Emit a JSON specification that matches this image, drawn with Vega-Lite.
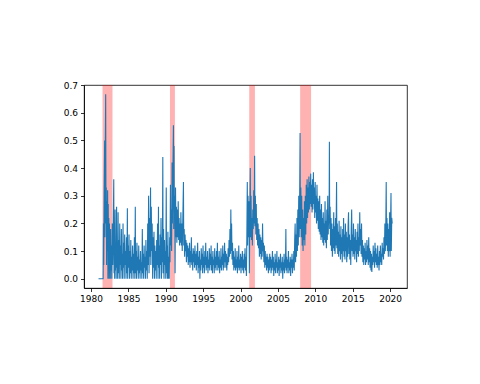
{
"$schema": "https://vega.github.io/schema/vega-lite/v6.json",
"width": 323, "height": 203,
"autosize": {"type": "none"},
"padding": {"left": 84, "top": 85, "right": 73, "bottom": 96},
"config": {
  "view": {"stroke": "black", "strokeWidth": 0.8},
  "axis": {"grid": false, "domainColor": "black", "domainWidth": 0.8, "tickColor": "black", "tickWidth": 0.8, "tickSize": 3.5, "labelPadding": 3, "labelFont": "DejaVu Sans", "labelFontSize": 9, "labelColor": "black", "title": null}
},
"datasets": {
  "rec": [{"start": 1981.54, "end": 1982.87}, {"start": 1990.56, "end": 1991.22}, {"start": 2001.16, "end": 2001.92}, {"start": 2007.97, "end": 2009.43}],
  "series": [
{"year":1981.00,"value":0},{"year":1981.30,"value":0},{"year":1981.62,"value":0},{"year":1981.66,"value":0.2},{"year":1981.70,"value":0.05},{"year":1981.76,"value":0.32},{"year":1981.82,"value":0.5},{"year":1981.86,"value":0.15},{"year":1981.90,"value":0.45},{"year":1981.96,"value":0.667},{"year":1982.00,"value":0.2},{"year":1982.04,"value":0.33},{"year":1982.08,"value":0.05},{"year":1982.12,"value":0.28},{"year":1982.16,"value":0.1},{"year":1982.22,"value":0.32},{"year":1982.26,"value":0.0},{"year":1982.30,"value":0.27},{"year":1982.34,"value":0.06},{"year":1982.38,"value":0.22},{"year":1982.42,"value":0.0},{"year":1982.46,"value":0.2},{"year":1982.50,"value":0.05},{"year":1982.54,"value":0.14},{"year":1982.58,"value":0.0},{"year":1982.62,"value":0.18},{"year":1982.66,"value":0.03},{"year":1982.72,"value":0.12},{"year":1982.78,"value":0.0},{"year":1982.84,"value":0.2},{"year":1982.90,"value":0.05},{"year":1982.96,"value":0.15},{"year":1983.04,"value":0.36},
{"year":1983.08,"value":0.02},{"year":1983.12,"value":0.15},{"year":1983.16,"value":0.0},{"year":1983.22,"value":0.25},{"year":1983.26,"value":0.03},{"year":1983.32,"value":0.12},{"year":1983.36,"value":0.0},{"year":1983.42,"value":0.26},{"year":1983.46,"value":0.04},{"year":1983.52,"value":0.1},{"year":1983.56,"value":0.0},{"year":1983.62,"value":0.24},{"year":1983.66,"value":0.02},{"year":1983.72,"value":0.14},{"year":1983.78,"value":0.0},{"year":1983.84,"value":0.2},{"year":1983.88,"value":0.05},{"year":1983.94,"value":0.12},{"year":1984.00,"value":0.0},{"year":1984.06,"value":0.18},{"year":1984.10,"value":0.03},{"year":1984.16,"value":0.09},{"year":1984.22,"value":0.0},{"year":1984.28,"value":0.2},{"year":1984.32,"value":0.04},{"year":1984.38,"value":0.13},{"year":1984.44,"value":0.0},{"year":1984.50,"value":0.16},{"year":1984.56,"value":0.05},{"year":1984.62,"value":0.1},{"year":1984.68,"value":0.0},{"year":1984.74,"value":0.15},{"year":1984.80,"value":0.02},{"year":1984.86,"value":0.255},{"year":1984.90,"value":0.0},{"year":1984.96,"value":0.12},
{"year":1985.02,"value":0.04},{"year":1985.08,"value":0.16},{"year":1985.14,"value":0.0},{"year":1985.20,"value":0.1},{"year":1985.26,"value":0.02},{"year":1985.32,"value":0.14},{"year":1985.38,"value":0.0},{"year":1985.44,"value":0.08},{"year":1985.50,"value":0.03},{"year":1985.56,"value":0.12},{"year":1985.62,"value":0.0},{"year":1985.68,"value":0.09},{"year":1985.74,"value":0.02},{"year":1985.80,"value":0.15},{"year":1985.86,"value":0.0},{"year":1985.92,"value":0.26},{"year":1985.96,"value":0.02},{"year":1986.02,"value":0.1},{"year":1986.08,"value":0.0},{"year":1986.14,"value":0.13},{"year":1986.20,"value":0.03},{"year":1986.26,"value":0.08},{"year":1986.32,"value":0.0},{"year":1986.38,"value":0.12},{"year":1986.44,"value":0.02},{"year":1986.50,"value":0.07},{"year":1986.56,"value":0.0},{"year":1986.62,"value":0.1},{"year":1986.68,"value":0.03},{"year":1986.74,"value":0.06},{"year":1986.80,"value":0.0},{"year":1986.86,"value":0.18},{"year":1986.92,"value":0.02},{"year":1986.98,"value":0.09},
{"year":1987.04,"value":0.0},{"year":1987.10,"value":0.12},{"year":1987.16,"value":0.04},{"year":1987.22,"value":0.08},{"year":1987.28,"value":0.0},{"year":1987.34,"value":0.14},{"year":1987.40,"value":0.03},{"year":1987.46,"value":0.1},{"year":1987.52,"value":0.0},{"year":1987.58,"value":0.2},{"year":1987.64,"value":0.05},{"year":1987.70,"value":0.3},{"year":1987.76,"value":0.02},{"year":1987.82,"value":0.22},{"year":1987.88,"value":0.08},{"year":1987.96,"value":0.33},{"year":1988.00,"value":0.05},{"year":1988.06,"value":0.26},{"year":1988.12,"value":0.1},{"year":1988.18,"value":0.2},{"year":1988.24,"value":0.0},{"year":1988.30,"value":0.15},{"year":1988.36,"value":0.04},{"year":1988.42,"value":0.17},{"year":1988.48,"value":0.0},{"year":1988.54,"value":0.12},{"year":1988.60,"value":0.03},{"year":1988.66,"value":0.1},{"year":1988.72,"value":0.0},{"year":1988.78,"value":0.14},{"year":1988.84,"value":0.05},{"year":1988.90,"value":0.2},{"year":1988.96,"value":0.0},
{"year":1989.02,"value":0.26},{"year":1989.06,"value":0.04},{"year":1989.12,"value":0.12},{"year":1989.18,"value":0.0},{"year":1989.24,"value":0.16},{"year":1989.30,"value":0.05},{"year":1989.36,"value":0.22},{"year":1989.42,"value":0.0},{"year":1989.48,"value":0.15},{"year":1989.54,"value":0.06},{"year":1989.60,"value":0.44},{"year":1989.64,"value":0.02},{"year":1989.70,"value":0.18},{"year":1989.76,"value":0.0},{"year":1989.82,"value":0.14},{"year":1989.88,"value":0.05},{"year":1989.94,"value":0.1},{"year":1990.00,"value":0.0},{"year":1990.06,"value":0.33},{"year":1990.10,"value":0.02},{"year":1990.16,"value":0.12},{"year":1990.22,"value":0.0},{"year":1990.28,"value":0.17},{"year":1990.34,"value":0.0},{"year":1990.40,"value":0.08},{"year":1990.46,"value":0.0},{"year":1990.52,"value":0.15},{"year":1990.56,"value":0.06},{"year":1990.62,"value":0.34},{"year":1990.66,"value":0.12},{"year":1990.72,"value":0.25},{"year":1990.78,"value":0.1},{"year":1990.84,"value":0.42},{"year":1990.88,"value":0.2},{"year":1990.94,"value":0.35},
{"year":1991.02,"value":0.555},{"year":1991.06,"value":0.18},{"year":1991.10,"value":0.48},{"year":1991.14,"value":0.22},{"year":1991.20,"value":0.3},{"year":1991.24,"value":0.02},{"year":1991.30,"value":0.33},{"year":1991.36,"value":0.15},{"year":1991.42,"value":0.26},{"year":1991.48,"value":0.13},{"year":1991.54,"value":0.25},{"year":1991.60,"value":0.15},{"year":1991.66,"value":0.28},{"year":1991.72,"value":0.14},{"year":1991.78,"value":0.22},{"year":1991.84,"value":0.12},{"year":1991.90,"value":0.2},{"year":1991.96,"value":0.13},{"year":1992.02,"value":0.24},{"year":1992.08,"value":0.12},{"year":1992.14,"value":0.2},{"year":1992.20,"value":0.1},{"year":1992.28,"value":0.22},{"year":1992.36,"value":0.35},{"year":1992.40,"value":0.12},{"year":1992.46,"value":0.18},{"year":1992.52,"value":0.08},{"year":1992.58,"value":0.16},{"year":1992.64,"value":0.1},{"year":1992.70,"value":0.14},{"year":1992.76,"value":0.06},{"year":1992.82,"value":0.13},{"year":1992.88,"value":0.08},{"year":1992.94,"value":0.12},
{"year":1993.00,"value":0.05},{"year":1993.06,"value":0.11},{"year":1993.12,"value":0.06},{"year":1993.18,"value":0.13},{"year":1993.24,"value":0.04},{"year":1993.30,"value":0.1},{"year":1993.36,"value":0.06},{"year":1993.42,"value":0.15},{"year":1993.48,"value":0.05},{"year":1993.54,"value":0.09},{"year":1993.60,"value":0.03},{"year":1993.66,"value":0.11},{"year":1993.72,"value":0.06},{"year":1993.78,"value":0.1},{"year":1993.84,"value":0.04},{"year":1993.90,"value":0.12},{"year":1993.96,"value":0.05},{"year":1994.02,"value":0.09},{"year":1994.08,"value":0.03},{"year":1994.14,"value":0.1},{"year":1994.20,"value":0.05},{"year":1994.26,"value":0.13},{"year":1994.32,"value":0.02},{"year":1994.38,"value":0.08},{"year":1994.44,"value":0.04},{"year":1994.50,"value":0.1},{"year":1994.56,"value":0.0},{"year":1994.62,"value":0.07},{"year":1994.68,"value":0.03},{"year":1994.74,"value":0.11},{"year":1994.80,"value":0.05},{"year":1994.86,"value":0.09},{"year":1994.92,"value":0.02},{"year":1994.98,"value":0.12},
{"year":1995.04,"value":0.04},{"year":1995.10,"value":0.08},{"year":1995.16,"value":0.02},{"year":1995.22,"value":0.1},{"year":1995.28,"value":0.05},{"year":1995.34,"value":0.13},{"year":1995.40,"value":0.03},{"year":1995.46,"value":0.08},{"year":1995.52,"value":0.04},{"year":1995.58,"value":0.1},{"year":1995.64,"value":0.02},{"year":1995.70,"value":0.07},{"year":1995.76,"value":0.04},{"year":1995.82,"value":0.11},{"year":1995.88,"value":0.03},{"year":1995.94,"value":0.09},{"year":1996.00,"value":0.05},{"year":1996.06,"value":0.12},{"year":1996.12,"value":0.03},{"year":1996.18,"value":0.08},{"year":1996.24,"value":0.02},{"year":1996.30,"value":0.1},{"year":1996.36,"value":0.05},{"year":1996.42,"value":0.07},{"year":1996.48,"value":0.02},{"year":1996.54,"value":0.11},{"year":1996.60,"value":0.04},{"year":1996.66,"value":0.08},{"year":1996.72,"value":0.03},{"year":1996.78,"value":0.1},{"year":1996.84,"value":0.05},{"year":1996.90,"value":0.13},{"year":1996.96,"value":0.03},
{"year":1997.02,"value":0.08},{"year":1997.08,"value":0.04},{"year":1997.14,"value":0.1},{"year":1997.20,"value":0.02},{"year":1997.26,"value":0.07},{"year":1997.32,"value":0.04},{"year":1997.38,"value":0.11},{"year":1997.44,"value":0.03},{"year":1997.50,"value":0.08},{"year":1997.56,"value":0.05},{"year":1997.62,"value":0.12},{"year":1997.68,"value":0.03},{"year":1997.74,"value":0.09},{"year":1997.80,"value":0.04},{"year":1997.86,"value":0.13},{"year":1997.92,"value":0.06},{"year":1997.98,"value":0.1},{"year":1998.04,"value":0.04},{"year":1998.10,"value":0.09},{"year":1998.16,"value":0.03},{"year":1998.22,"value":0.08},{"year":1998.28,"value":0.05},{"year":1998.34,"value":0.11},{"year":1998.40,"value":0.06},{"year":1998.46,"value":0.14},{"year":1998.52,"value":0.08},{"year":1998.58,"value":0.18},{"year":1998.64,"value":0.09},{"year":1998.70,"value":0.25},{"year":1998.74,"value":0.1},{"year":1998.80,"value":0.2},{"year":1998.86,"value":0.07},{"year":1998.92,"value":0.13},{"year":1998.98,"value":0.05},
{"year":1999.04,"value":0.1},{"year":1999.10,"value":0.03},{"year":1999.16,"value":0.08},{"year":1999.22,"value":0.04},{"year":1999.28,"value":0.11},{"year":1999.34,"value":0.03},{"year":1999.40,"value":0.07},{"year":1999.46,"value":0.04},{"year":1999.52,"value":0.1},{"year":1999.58,"value":0.02},{"year":1999.64,"value":0.08},{"year":1999.70,"value":0.04},{"year":1999.76,"value":0.12},{"year":1999.82,"value":0.03},{"year":1999.88,"value":0.07},{"year":1999.94,"value":0.04},{"year":2000.00,"value":0.09},{"year":2000.06,"value":0.02},{"year":2000.12,"value":0.08},{"year":2000.18,"value":0.04},{"year":2000.24,"value":0.1},{"year":2000.30,"value":0.03},{"year":2000.36,"value":0.07},{"year":2000.42,"value":0.02},{"year":2000.48,"value":0.09},{"year":2000.54,"value":0.04},{"year":2000.60,"value":0.11},{"year":2000.66,"value":0.03},{"year":2000.72,"value":0.08},{"year":2000.78,"value":0.01},{"year":2000.84,"value":0.15},{"year":2000.90,"value":0.35},{"year":2000.94,"value":0.12},
{"year":2001.00,"value":0.3},{"year":2001.06,"value":0.15},{"year":2001.12,"value":0.28},{"year":2001.18,"value":0.02},{"year":2001.24,"value":0.25},{"year":2001.30,"value":0.4},{"year":2001.34,"value":0.15},{"year":2001.40,"value":0.3},{"year":2001.46,"value":0.14},{"year":2001.52,"value":0.22},{"year":2001.58,"value":0.12},{"year":2001.64,"value":0.25},{"year":2001.70,"value":0.18},{"year":2001.76,"value":0.32},{"year":2001.82,"value":0.2},{"year":2001.88,"value":0.445},{"year":2001.92,"value":0.19},{"year":2001.98,"value":0.3},{"year":2002.04,"value":0.16},{"year":2002.10,"value":0.27},{"year":2002.16,"value":0.14},{"year":2002.22,"value":0.22},{"year":2002.28,"value":0.12},{"year":2002.34,"value":0.2},{"year":2002.40,"value":0.11},{"year":2002.46,"value":0.18},{"year":2002.52,"value":0.08},{"year":2002.58,"value":0.16},{"year":2002.64,"value":0.09},{"year":2002.70,"value":0.15},{"year":2002.76,"value":0.07},{"year":2002.82,"value":0.14},{"year":2002.88,"value":0.08},{"year":2002.94,"value":0.2},
{"year":2003.00,"value":0.1},{"year":2003.06,"value":0.13},{"year":2003.12,"value":0.06},{"year":2003.18,"value":0.12},{"year":2003.24,"value":0.04},{"year":2003.30,"value":0.1},{"year":2003.36,"value":0.05},{"year":2003.42,"value":0.08},{"year":2003.48,"value":0.03},{"year":2003.54,"value":0.09},{"year":2003.60,"value":0.04},{"year":2003.66,"value":0.08},{"year":2003.72,"value":0.02},{"year":2003.78,"value":0.07},{"year":2003.84,"value":0.03},{"year":2003.90,"value":0.09},{"year":2003.96,"value":0.04},{"year":2004.02,"value":0.08},{"year":2004.08,"value":0.02},{"year":2004.14,"value":0.07},{"year":2004.20,"value":0.03},{"year":2004.26,"value":0.1},{"year":2004.32,"value":0.04},{"year":2004.38,"value":0.08},{"year":2004.44,"value":0.01},{"year":2004.50,"value":0.06},{"year":2004.56,"value":0.03},{"year":2004.62,"value":0.09},{"year":2004.68,"value":0.02},{"year":2004.74,"value":0.07},{"year":2004.80,"value":0.04},{"year":2004.86,"value":0.1},{"year":2004.92,"value":0.02},{"year":2004.98,"value":0.06},
{"year":2005.04,"value":0.03},{"year":2005.10,"value":0.08},{"year":2005.16,"value":0.01},{"year":2005.22,"value":0.07},{"year":2005.28,"value":0.04},{"year":2005.34,"value":0.09},{"year":2005.40,"value":0.02},{"year":2005.46,"value":0.06},{"year":2005.52,"value":0.03},{"year":2005.58,"value":0.08},{"year":2005.64,"value":0.0},{"year":2005.70,"value":0.06},{"year":2005.76,"value":0.03},{"year":2005.82,"value":0.09},{"year":2005.88,"value":0.02},{"year":2005.94,"value":0.07},{"year":2006.00,"value":0.04},{"year":2006.06,"value":0.18},{"year":2006.10,"value":0.03},{"year":2006.16,"value":0.08},{"year":2006.22,"value":0.02},{"year":2006.28,"value":0.07},{"year":2006.34,"value":0.04},{"year":2006.40,"value":0.1},{"year":2006.46,"value":0.02},{"year":2006.52,"value":0.06},{"year":2006.58,"value":0.03},{"year":2006.64,"value":0.08},{"year":2006.70,"value":0.01},{"year":2006.76,"value":0.07},{"year":2006.82,"value":0.04},{"year":2006.88,"value":0.09},{"year":2006.94,"value":0.02},
{"year":2007.00,"value":0.07},{"year":2007.06,"value":0.04},{"year":2007.12,"value":0.1},{"year":2007.18,"value":0.03},{"year":2007.24,"value":0.14},{"year":2007.30,"value":0.2},{"year":2007.36,"value":0.06},{"year":2007.42,"value":0.16},{"year":2007.48,"value":0.08},{"year":2007.54,"value":0.22},{"year":2007.60,"value":0.1},{"year":2007.66,"value":0.25},{"year":2007.72,"value":0.12},{"year":2007.78,"value":0.3},{"year":2007.84,"value":0.15},{"year":2007.90,"value":0.28},{"year":2007.96,"value":0.527},{"year":2008.00,"value":0.18},{"year":2008.06,"value":0.33},{"year":2008.12,"value":0.15},{"year":2008.18,"value":0.3},{"year":2008.24,"value":0.12},{"year":2008.30,"value":0.25},{"year":2008.36,"value":0.1},{"year":2008.42,"value":0.22},{"year":2008.48,"value":0.14},{"year":2008.54,"value":0.28},{"year":2008.60,"value":0.12},{"year":2008.66,"value":0.3},{"year":2008.72,"value":0.16},{"year":2008.78,"value":0.34},{"year":2008.84,"value":0.2},{"year":2008.90,"value":0.36},{"year":2008.96,"value":0.22},
{"year":2009.02,"value":0.33},{"year":2009.08,"value":0.24},{"year":2009.14,"value":0.37},{"year":2009.20,"value":0.25},{"year":2009.26,"value":0.35},{"year":2009.32,"value":0.27},{"year":2009.38,"value":0.38},{"year":2009.44,"value":0.26},{"year":2009.50,"value":0.34},{"year":2009.56,"value":0.24},{"year":2009.62,"value":0.36},{"year":2009.68,"value":0.25},{"year":2009.74,"value":0.385},{"year":2009.80,"value":0.27},{"year":2009.86,"value":0.33},{"year":2009.92,"value":0.22},{"year":2009.98,"value":0.35},{"year":2010.04,"value":0.24},{"year":2010.10,"value":0.3},{"year":2010.16,"value":0.2},{"year":2010.22,"value":0.34},{"year":2010.28,"value":0.21},{"year":2010.34,"value":0.29},{"year":2010.40,"value":0.18},{"year":2010.46,"value":0.28},{"year":2010.52,"value":0.17},{"year":2010.58,"value":0.3},{"year":2010.64,"value":0.16},{"year":2010.70,"value":0.25},{"year":2010.76,"value":0.14},{"year":2010.82,"value":0.27},{"year":2010.88,"value":0.15},{"year":2010.94,"value":0.22},
{"year":2011.00,"value":0.13},{"year":2011.06,"value":0.24},{"year":2011.12,"value":0.12},{"year":2011.18,"value":0.2},{"year":2011.24,"value":0.14},{"year":2011.30,"value":0.28},{"year":2011.36,"value":0.13},{"year":2011.42,"value":0.21},{"year":2011.48,"value":0.11},{"year":2011.54,"value":0.25},{"year":2011.60,"value":0.14},{"year":2011.66,"value":0.3},{"year":2011.72,"value":0.16},{"year":2011.78,"value":0.23},{"year":2011.84,"value":0.2},{"year":2011.88,"value":0.495},{"year":2011.92,"value":0.18},{"year":2011.98,"value":0.26},{"year":2012.04,"value":0.12},{"year":2012.10,"value":0.22},{"year":2012.16,"value":0.1},{"year":2012.22,"value":0.2},{"year":2012.28,"value":0.08},{"year":2012.34,"value":0.18},{"year":2012.40,"value":0.11},{"year":2012.46,"value":0.24},{"year":2012.52,"value":0.1},{"year":2012.58,"value":0.19},{"year":2012.64,"value":0.09},{"year":2012.70,"value":0.22},{"year":2012.76,"value":0.12},{"year":2012.84,"value":0.35},{"year":2012.88,"value":0.11},{"year":2012.94,"value":0.2},
{"year":2013.00,"value":0.09},{"year":2013.06,"value":0.17},{"year":2013.12,"value":0.08},{"year":2013.18,"value":0.21},{"year":2013.24,"value":0.1},{"year":2013.30,"value":0.16},{"year":2013.36,"value":0.07},{"year":2013.42,"value":0.19},{"year":2013.48,"value":0.09},{"year":2013.54,"value":0.15},{"year":2013.60,"value":0.06},{"year":2013.66,"value":0.18},{"year":2013.72,"value":0.1},{"year":2013.78,"value":0.22},{"year":2013.84,"value":0.08},{"year":2013.90,"value":0.16},{"year":2013.96,"value":0.07},{"year":2014.02,"value":0.2},{"year":2014.08,"value":0.1},{"year":2014.14,"value":0.17},{"year":2014.20,"value":0.06},{"year":2014.26,"value":0.15},{"year":2014.32,"value":0.08},{"year":2014.38,"value":0.19},{"year":2014.44,"value":0.24},{"year":2014.50,"value":0.09},{"year":2014.56,"value":0.16},{"year":2014.62,"value":0.07},{"year":2014.68,"value":0.14},{"year":2014.74,"value":0.05},{"year":2014.80,"value":0.18},{"year":2014.86,"value":0.25},{"year":2014.92,"value":0.1},{"year":2014.98,"value":0.16},
{"year":2015.04,"value":0.08},{"year":2015.10,"value":0.2},{"year":2015.16,"value":0.09},{"year":2015.22,"value":0.15},{"year":2015.28,"value":0.07},{"year":2015.34,"value":0.18},{"year":2015.40,"value":0.1},{"year":2015.46,"value":0.14},{"year":2015.52,"value":0.06},{"year":2015.58,"value":0.17},{"year":2015.64,"value":0.09},{"year":2015.70,"value":0.2},{"year":2015.76,"value":0.08},{"year":2015.82,"value":0.15},{"year":2015.88,"value":0.1},{"year":2015.94,"value":0.24},{"year":2016.00,"value":0.12},{"year":2016.06,"value":0.18},{"year":2016.12,"value":0.09},{"year":2016.18,"value":0.2},{"year":2016.24,"value":0.08},{"year":2016.30,"value":0.14},{"year":2016.36,"value":0.06},{"year":2016.42,"value":0.12},{"year":2016.48,"value":0.05},{"year":2016.54,"value":0.11},{"year":2016.60,"value":0.07},{"year":2016.66,"value":0.13},{"year":2016.72,"value":0.05},{"year":2016.78,"value":0.1},{"year":2016.84,"value":0.06},{"year":2016.90,"value":0.14},{"year":2016.96,"value":0.07},
{"year":2017.02,"value":0.12},{"year":2017.08,"value":0.05},{"year":2017.14,"value":0.15},{"year":2017.20,"value":0.06},{"year":2017.26,"value":0.11},{"year":2017.32,"value":0.04},{"year":2017.38,"value":0.1},{"year":2017.44,"value":0.03},{"year":2017.50,"value":0.09},{"year":2017.56,"value":0.025},{"year":2017.62,"value":0.08},{"year":2017.68,"value":0.05},{"year":2017.74,"value":0.12},{"year":2017.80,"value":0.06},{"year":2017.86,"value":0.1},{"year":2017.92,"value":0.04},{"year":2017.98,"value":0.13},{"year":2018.04,"value":0.06},{"year":2018.10,"value":0.11},{"year":2018.16,"value":0.05},{"year":2018.22,"value":0.09},{"year":2018.28,"value":0.04},{"year":2018.34,"value":0.12},{"year":2018.40,"value":0.05},{"year":2018.46,"value":0.08},{"year":2018.52,"value":0.03},{"year":2018.58,"value":0.1},{"year":2018.64,"value":0.05},{"year":2018.70,"value":0.12},{"year":2018.76,"value":0.06},{"year":2018.82,"value":0.09},{"year":2018.88,"value":0.05},{"year":2018.94,"value":0.13},
{"year":2019.00,"value":0.08},{"year":2019.06,"value":0.11},{"year":2019.12,"value":0.07},{"year":2019.18,"value":0.15},{"year":2019.24,"value":0.09},{"year":2019.30,"value":0.2},{"year":2019.36,"value":0.1},{"year":2019.42,"value":0.18},{"year":2019.48,"value":0.35},{"year":2019.52,"value":0.12},{"year":2019.58,"value":0.22},{"year":2019.64,"value":0.1},{"year":2019.70,"value":0.2},{"year":2019.76,"value":0.08},{"year":2019.82,"value":0.18},{"year":2019.88,"value":0.1},{"year":2019.94,"value":0.24},{"year":2020.00,"value":0.08},{"year":2020.06,"value":0.2},{"year":2020.12,"value":0.31},{"year":2020.16,"value":0.1},{"year":2020.22,"value":0.22},{"year":2020.28,"value":0.2}
  ]
},
"layer": [
  {
    "data": {"name": "rec"},
    "mark": {"type": "rect", "color": "red", "opacity": 0.3},
    "encoding": {
      "x": {"field": "start", "type": "quantitative", "scale": {"domain": [1979.06, 2022.26], "nice": false, "zero": false}},
      "x2": {"field": "end"}
    }
  },
  {
    "data": {"name": "series"},
    "mark": {"type": "line", "color": "#1f77b4", "strokeWidth": 1.1},
    "encoding": {
      "x": {"field": "year", "type": "quantitative", "scale": {"domain": [1979.06, 2022.26], "nice": false, "zero": false}, "axis": {"values": [1980, 1985, 1990, 1995, 2000, 2005, 2010, 2015, 2020], "format": "d"}},
      "y": {"field": "value", "type": "quantitative", "scale": {"domain": [-0.0333, 0.7003], "nice": false, "zero": false}, "axis": {"values": [0, 0.1, 0.2, 0.3, 0.4, 0.5, 0.6, 0.7], "format": ".1f"}}
    }
  }
]
}
